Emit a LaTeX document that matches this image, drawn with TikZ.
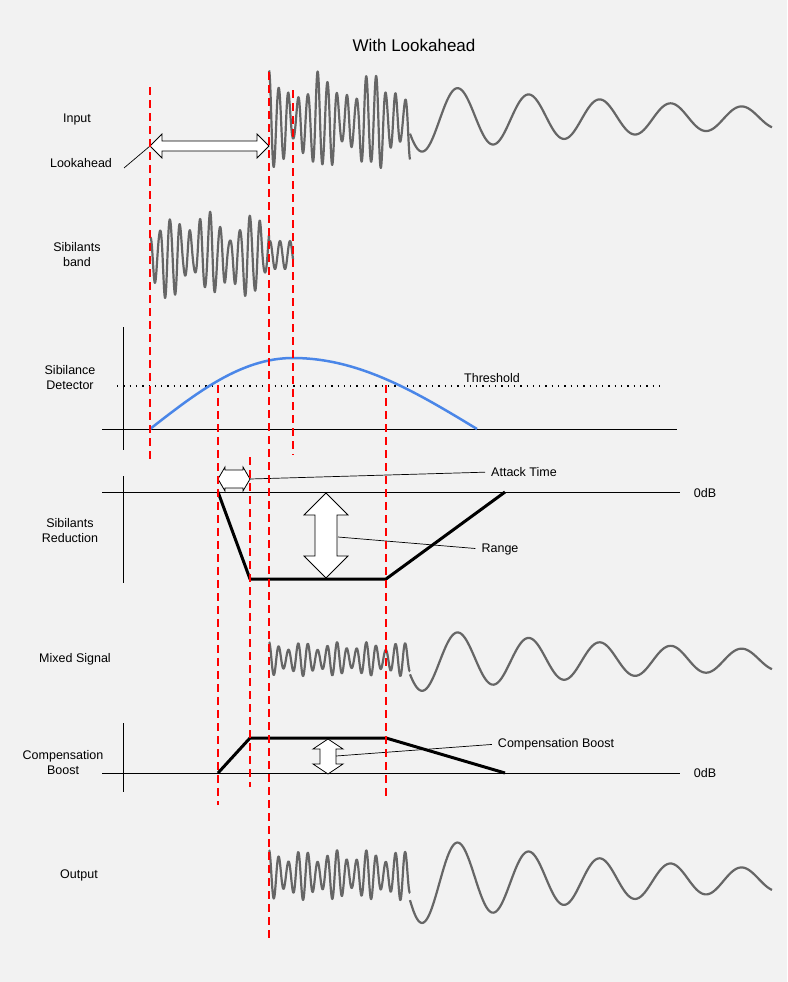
\documentclass[tikz,border=0pt]{standalone}
\usepackage{fontspec}
\setmainfont{Liberation Sans}
\begin{document}
\begin{tikzpicture}[x=1pt,y=-1pt,
  lbl/.style={font=\fontsize{12.5}{15}\selectfont, align=center, inner sep=0pt},
  wave/.style={draw=black!60, line width=2.2pt, line join=round},
  rdash/.style={draw=red, line width=2pt, dash pattern=on 8pt off 5pt},
  axis/.style={draw=black, line width=1pt},
  env/.style={draw=black, line width=3pt, line join=round},
  harrow/.style={draw=black, fill=white, line width=0.8pt, line join=miter},
  lead/.style={draw=black, line width=0.7pt, shorten >=6pt}]
\useasboundingbox (0,0) rectangle (787,982);
\fill[black!5] (0,0) rectangle (787,982);
\node[lbl, font=\fontsize{17}{20}\selectfont] (title) at (414,45) {With Lookahead};
% labels
\node[lbl] (lin) at (77,119) {Input};
\node[lbl] (llook) at (81,163) {Lookahead};
\node[lbl] (lsib) at (77,255) {Sibilants\\band};
\node[lbl] (ldet) at (70,378) {Sibilance\\Detector};
\node[lbl] (lred) at (70,531) {Sibilants\\Reduction};
\node[lbl] (lmix) at (75,659) {Mixed Signal};
\node[lbl] (lcomp) at (63,763) {Compensation\\Boost};
\node[lbl] (lout) at (79,875) {Output};
% waves
\draw[wave] plot[domain=269:410, samples=500, smooth] (\x, {122 - (34+12*sin(7*\x)+6*sin(23*\x))*sin(37*(\x-269)+90)});
\draw[wave] plot[domain=410:772, samples=300, smooth] (\x, {118 - 35*exp(-(\x-410)/300)*cos((\x-458)/71*360)});
\draw[wave] plot[domain=150:293, samples=500, smooth] (\x, {255 - (\x<269 ? (30+10*sin(9*\x)+6*sin(31*\x)) : 14)*sin(36*(\x-150)+90)});
\draw[wave] plot[domain=269:410, samples=500, smooth] (\x, {659 - (13+4*sin(11*\x))*sin(37*(\x-269)+90)});
\draw[wave] plot[domain=410:772, samples=300, smooth] (\x, {660 - 32*exp(-(\x-410)/320)*cos((\x-458)/71*360)});
\draw[wave] plot[domain=269:410, samples=500, smooth] (\x, {875 - (19+6*sin(11*\x))*sin(37*(\x-269)+90)});
\draw[wave] plot[domain=410:772, samples=300, smooth] (\x, {880 - 45*exp(-(\x-410)/260)*cos((\x-458)/71*360)});
% detector
\draw[axis] (123,327) -- (123,450);
\draw[axis] (102,429) -- (677,429);
\draw[black, line width=1.3pt, dash pattern=on 1.3pt off 5pt] (117,386) -- (665,386);
\node[lbl] (thr) at (492,378) {Threshold};
\draw[color={rgb,255:red,74;green,134;blue,232}, line width=2.5pt] plot[domain=150:293, samples=60, smooth] (\x, {429 - 71*sin((\x-150)/143*90)})
  -- plot[domain=293:477, samples=60, smooth] (\x, {429 - 71*cos((\x-293)/184*90)});
% reduction
\draw[axis] (123,476) -- (123,583);
\draw[axis] (102,492) -- (680,492);
\node[lbl] (db1) at (705,493) {0dB};
\draw[env] (218,492) -- (250,579) -- (386,579) -- (505,492);
\draw[harrow] (326,493) -- (348,515) -- (337,515) -- (337,556) -- (348,556) -- (326,578) -- (304,556) -- (315,556) -- (315,515) -- (304,515) -- cycle;
\node[lbl] (rng) at (500,549) {Range};
\draw[lead] (338,537) -- (rng.west);
\draw[harrow] (218,479) -- (225,467) -- (225,470) -- (243,470) -- (243,467) -- (250,479) -- (243,491) -- (243,488) -- (225,488) -- (225,491) -- cycle;
\node[lbl] (att) at (524,472) {Attack Time};
\draw[lead] (250,479) -- (att.west);
% compensation
\draw[axis] (123,723) -- (123,792);
\draw[axis] (102,773) -- (680,773);
\node[lbl] (db2) at (705,773) {0dB};
\draw[env] (218,773) -- (250,738) -- (386,738) -- (505,773);
\draw[harrow] (328,739) -- (343,749) -- (336,749) -- (336,764) -- (343,764) -- (328,774) -- (313,764) -- (320,764) -- (320,749) -- (313,749) -- cycle;
\node[lbl] (cb) at (556,744) {Compensation Boost};
\draw[lead] (336,756) -- (cb.west);
% lookahead
\draw[harrow] (150,146) -- (162,134) -- (162,141) -- (257,141) -- (257,134) -- (269,146) -- (257,158) -- (257,151) -- (162,151) -- (162,158) -- cycle;
\coordinate (lk) at (124,168);
\draw[line width=0.7pt] (lk) -- (150,146);
% red dashed lines
\draw[rdash] (150,87) -- (150,460);
\draw[rdash] (269,72) -- (269,940);
\draw[rdash] (293,90) -- (293,455);
\draw[rdash] (218,385) -- (218,805);
\draw[rdash] (250,457) -- (250,787);
\draw[rdash] (386,385) -- (386,800);
\end{tikzpicture}
\end{document}
